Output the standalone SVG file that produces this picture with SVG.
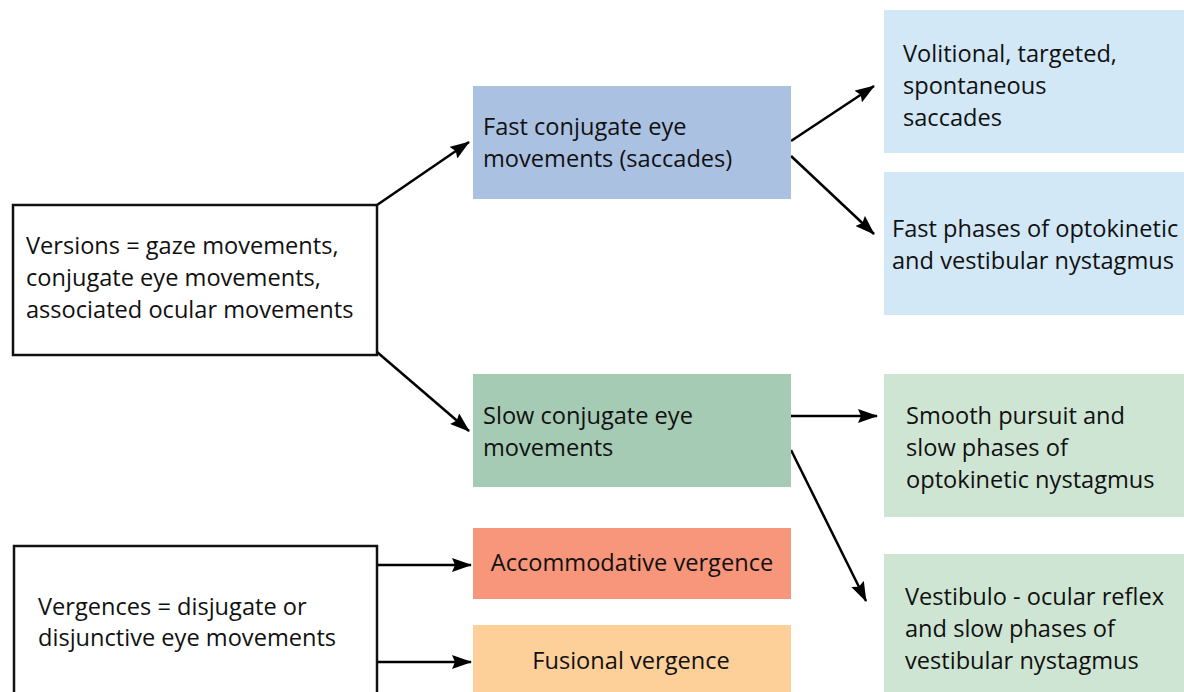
<svg xmlns="http://www.w3.org/2000/svg" width="1184" height="692" viewBox="0 0 1184 692">
  <defs>
    <marker id="arrow" viewBox="0 0 20 14" refX="19" refY="7" markerWidth="20" markerHeight="14" markerUnits="userSpaceOnUse" orient="auto">
      <path d="M0,0 L20,7 L0,14 L3,7 Z" fill="#000"/>
    </marker>
    <style>
      text { font-family: "Open Sans", "Noto Sans", "Liberation Sans", sans-serif; font-size: 23.6px; fill: #111; }
      .outline { fill: #fff; stroke: #111; stroke-width: 2.5; }
      .edge { stroke: #000; stroke-width: 2.5; fill: none; marker-end: url(#arrow); }
      .fast { fill: #abc1e2; }
      .slow { fill: #a5cbb4; }
      .accom { fill: #f7967a; }
      .fus { fill: #fdd09a; }
      .fastleaf { fill: #d2e8f7; }
      .slowleaf { fill: #cfe5d3; }
    </style>
  </defs>
  <rect width="1184" height="692" fill="#fff"/>

  <g id="connectors">
    <line class="edge" x1="377" y1="205" x2="469" y2="142"/>
    <line class="edge" x1="377" y1="352" x2="469" y2="431"/>
    <line class="edge" x1="791" y1="141" x2="874" y2="86"/>
    <line class="edge" x1="791" y1="156" x2="874" y2="234"/>
    <line class="edge" x1="791" y1="416" x2="877" y2="416"/>
    <line class="edge" x1="791" y1="450" x2="866" y2="601"/>
    <line class="edge" x1="377" y1="565" x2="471" y2="565"/>
    <line class="edge" x1="377" y1="662" x2="471" y2="662"/>
  </g>

  <g id="versions">
    <rect class="outline" x="13" y="205" width="364" height="150"/>
    <text x="26" y="254">Versions = gaze movements,</text>
    <text x="26" y="286">conjugate eye movements,</text>
    <text x="26" y="318">associated ocular movements</text>
  </g>

  <g id="vergences">
    <rect class="outline" x="14" y="546" width="363" height="160"/>
    <text x="38" y="615">Vergences = disjugate or</text>
    <text x="38" y="646">disjunctive eye movements</text>
  </g>

  <g id="fast-conjugate">
    <rect class="fast" x="473" y="86" width="318" height="113"/>
    <text x="483" y="135">Fast conjugate eye</text>
    <text x="483" y="167">movements (saccades)</text>
  </g>

  <g id="slow-conjugate">
    <rect class="slow" x="473" y="374" width="318" height="113"/>
    <text x="483" y="424">Slow conjugate eye</text>
    <text x="483" y="456">movements</text>
  </g>

  <g id="accommodative">
    <rect class="accom" x="473" y="528" width="318" height="71"/>
    <text x="632" y="571" text-anchor="middle">Accommodative vergence</text>
  </g>

  <g id="fusional">
    <rect class="fus" x="473" y="625" width="318" height="67"/>
    <text x="631" y="669" text-anchor="middle">Fusional vergence</text>
  </g>

  <g id="volitional">
    <rect class="fastleaf" x="884" y="10" width="300" height="143"/>
    <text x="903" y="62">Volitional, targeted,</text>
    <text x="903" y="94">spontaneous</text>
    <text x="903" y="126">saccades</text>
  </g>

  <g id="fast-phases">
    <rect class="fastleaf" x="884" y="172" width="300" height="143"/>
    <text x="892" y="237">Fast phases of optokinetic</text>
    <text x="892" y="269">and vestibular nystagmus</text>
  </g>

  <g id="smooth-pursuit">
    <rect class="slowleaf" x="884" y="374" width="300" height="143"/>
    <text x="906" y="424">Smooth pursuit and</text>
    <text x="906" y="456">slow phases of</text>
    <text x="906" y="488">optokinetic nystagmus</text>
  </g>

  <g id="vestibulo-ocular">
    <rect class="slowleaf" x="884" y="554" width="300" height="138"/>
    <text x="905" y="605">Vestibulo - ocular reflex</text>
    <text x="905" y="637">and slow phases of</text>
    <text x="905" y="669">vestibular nystagmus</text>
  </g>
</svg>
